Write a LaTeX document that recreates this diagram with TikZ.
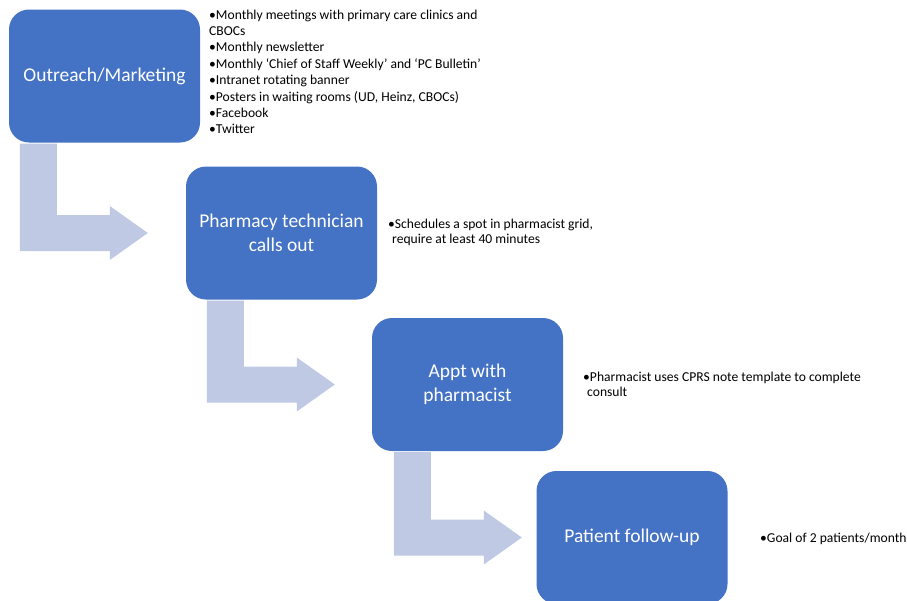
\documentclass[tikz,border=0pt]{standalone}
\usepackage{fontspec}
\setmainfont{Carlito}
\usetikzlibrary{calc}
\definecolor{stageblue}{HTML}{4472C4}
\definecolor{flowblue}{HTML}{BFC9E4}

\begin{document}
\begin{tikzpicture}[x=1pt, y=-1pt,
    stage/.style={fill=stageblue, rounded corners=20pt, minimum width=191pt, minimum height=133pt,
      inner sep=0pt, text=white, align=center, font=\fontsize{19.5}{23.5}\selectfont},
    note/.style={anchor=north west, inner sep=0pt, align=left, font=\fontsize{13.6}{14.5}\selectfont},
    flow/.style={fill=flowblue}]
        \useasboundingbox (0,0) rectangle (907,600);

        % Stages
        \node[stage] (outreach) at (104.5,76) {Outreach/Marketing};
        \node[stage] (tech) at (281.5,233) {Pharmacy technician\\calls out};
        \node[stage] (appt) at (467.5,384.5) {Appt with\\pharmacist};
        \node[stage] (followup) at (632,537.5) {Patient follow-up};

        % Bent arrows between stages
        \foreach \from/\to/\dx in {outreach/tech/11pt, tech/appt/21pt, appt/followup/22pt}
          \fill[flow] let \p1=(\from.south west), \p2=(\to.west) in
            (\x1+\dx,\y1-1pt) -- (\x1+\dx+37pt,\y1-1pt) -- (\x1+\dx+37pt,\y2+18pt)
            -- (\x1+\dx+90pt,\y2+18pt) -- (\x1+\dx+90pt,\y2+27pt) -- (\x1+\dx+128pt,\y2)
            -- (\x1+\dx+90pt,\y2-27pt) -- (\x1+\dx+90pt,\y2-18pt) -- (\x1+\dx,\y2-18pt) -- cycle;

        % Notes
        \node[note, font=\fontsize{13.6}{16.4}\selectfont] (outreachnote) at (209,9.5)
          {\textbullet Monthly meetings with primary care clinics and\\CBOCs\\\textbullet Monthly newsletter\\
           \textbullet Monthly ‘Chief of Staff Weekly’ and ‘PC Bulletin’\\\textbullet Intranet rotating banner\\
           \textbullet Posters in waiting rooms (UD, Heinz, CBOCs)\\\textbullet Facebook\\\textbullet Twitter};
        \node[note] (technote) at (388,219)
          {\textbullet Schedules a spot in pharmacist grid,\\\hspace{4pt}require at least 40 minutes};
        \node[note] (apptnote) at (583,372)
          {\textbullet Pharmacist uses CPRS note template to complete\\\hspace{4pt}consult};
        \node[note] (followupnote) at (760,532.5) {\textbullet Goal of 2 patients/month};
      \end{tikzpicture}
\end{document}
